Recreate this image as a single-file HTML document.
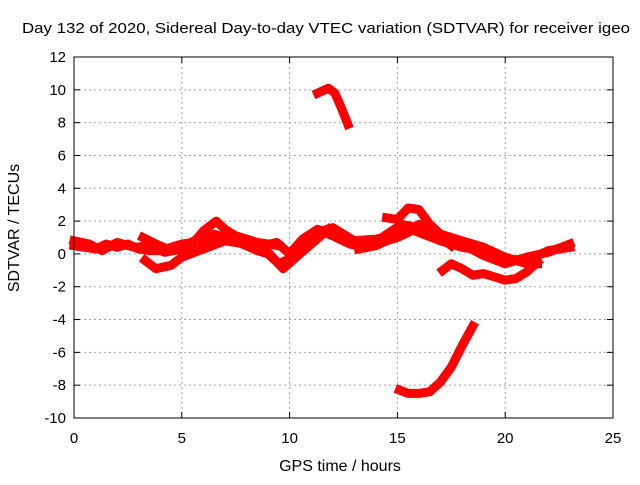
<!DOCTYPE html>
<html><head><meta charset="utf-8"><style>
body{margin:0;background:#fff;}
svg{font-family:"Liberation Sans",sans-serif;}
</style></head><body>
<svg width="640" height="480">
<g id="grid"></g>
<g id="series"></g>
<g id="axes"></g>
<text x="22" y="33" font-size="15" textLength="608" lengthAdjust="spacingAndGlyphs">Day 132 of 2020, Sidereal Day-to-day VTEC variation (SDTVAR) for receiver igeo</text>
<text x="340" y="471" text-anchor="middle" font-size="16">GPS time / hours</text>
<text transform="translate(19,228) rotate(-90)" text-anchor="middle" font-size="16">SDTVAR / TECUs</text>
</svg>
<script>
const xTicks=[0,5,10,15,20,25];
const yTicks=[-10,-8,-6,-4,-2,0,2,4,6,8,10,12];
const s1=[[0,0.5],[0.5,0.4],[1,0.3],[1.5,0.6],[2,0.4],[2.5,0.6],[3,0.3],[3.5,0.2],[4,0.2],[4.5,0.4],[5,0.6],[6,0.8],[6.5,1.2],[7,1.0],[8,0.5],[8.5,0.2],[9,0],[9.5,-0.6],[10,-0.3],[10.5,0.5],[11,1.0],[11.5,1.4],[12,1.6],[12.5,1.2],[13,0.8],[14,0.9],[15,1.2],[15.5,1.6],[16,1.3],[17,0.8],[18,0.4],[19,0.2],[20,-0.3],[21,-0.4],[21.5,-0.1],[22,0.2],[23,0.4]];
const s1b=[[0,0.8],[0.7,0.6],[1.3,0.2],[2,0.7],[2.8,0.4],[3.5,0.5],[4.2,0.1],[5,0.3],[5.8,1.0],[6.5,0.6],[7.2,1.2],[8,0.9],[8.8,0.5],[9.4,0.7],[10,0],[10.6,0.9],[11.3,1.5],[12,1.1],[12.8,0.6],[13.6,0.4],[14.4,1.1],[15.2,1.8],[16,1.6],[17,1.2],[18,0.6],[19,-0.1],[20,-0.6],[21,-0.2],[22,0.1],[23,0.6]];
const s2=[[3.2,1.0],[3.8,0.6],[4.5,0.2],[5.5,0.6],[6,1.4],[6.6,2.0],[7,1.5],[7.5,1.1],[8.5,0.7],[9.5,0.5]];
const s3=[[3.3,-0.4],[3.8,-0.9],[4.5,-0.7],[5,-0.2],[6,0.3],[7,0.8],[8,0.6],[9,0.1],[9.7,-0.9],[10.3,-0.2],[11,0.6],[11.8,1.5]];
const s4=[[14.5,2.2],[15,2.1],[15.5,2.8],[16,2.7],[16.5,1.8],[17,1.2],[18,0.8],[19,0.4],[20,-0.2],[21,-0.6],[21.5,-0.6]];
const s5=[[13.2,0.3],[14,0.5],[14.5,0.8],[15,1.0],[15.5,1.3],[16,1.8],[16.5,1.5],[17,1.0],[17.5,0.5]];
const s6=[[17.1,-1.0],[17.5,-0.6],[18,-0.9],[18.5,-1.3],[19,-1.2],[19.5,-1.4],[20,-1.6],[20.5,-1.5],[21,-1.1],[21.5,-0.5]];
const s7=[[11.3,9.8],[11.8,10.1],[12.1,9.8],[12.4,8.9],[12.7,7.9]];
const s8=[[15.1,-8.3],[15.5,-8.5],[16,-8.5],[16.5,-8.4],[17,-7.8],[17.5,-6.9],[18,-5.6],[18.5,-4.4]];
const allSeries=[s1,s1b,s2,s3,s4,s5,s6,s7,s8];
const X0=74,X1=613,Y0=418,Y1=57;
function xs(v){return X0+(v-0)/(25-0)*(X1-X0);}
function ys(v){return Y0-(v+10)/22*(Y0-Y1);}
const NS="http://www.w3.org/2000/svg";
function mk(t,a,p){const e=document.createElementNS(NS,t);for(const k in a)e.setAttribute(k,a[k]);p.appendChild(e);return e;}
const grid=document.getElementById('grid'),axes=document.getElementById('axes'),ser=document.getElementById('series');
xTicks.forEach(t=>{const x=xs(t);
 if(t>0&&t<25){const g=mk('line',{x1:x,x2:x,y1:Y1,y2:Y0,stroke:'#a0a0a0','stroke-dasharray':'2,3'},grid);
 
 }
 mk('line',{x1:x,x2:x,y1:Y0,y2:Y0-6,stroke:'#000'},axes);
 mk('line',{x1:x,x2:x,y1:Y1,y2:Y1+6,stroke:'#000'},axes);
 const l=mk('text',{x:x,y:Y0+25,'text-anchor':'middle','font-size':'15'},axes);l.textContent=t;
 
 });
yTicks.forEach(t=>{const y=ys(t);
 if(t>-10&&t<12){const g=mk('line',{x1:X0,x2:X1,y1:y,y2:y,stroke:'#a0a0a0','stroke-dasharray':'2,3'},grid);
 
 }
 mk('line',{x1:X0,x2:X0+6,y1:y,y2:y,stroke:'#000'},axes);
 mk('line',{x1:X1,x2:X1-6,y1:y,y2:y,stroke:'#000'},axes);
 const l=mk('text',{x:X0-8,y:y+5,'text-anchor':'end','font-size':'15'},axes);l.textContent=t;
 
 });
const fr=mk('rect',{x:X0,y:Y1,width:X1-X0,height:Y0-Y1,fill:'none',stroke:'#000'},axes);


allSeries.forEach((s,i)=>{
 const p=mk('polyline',{points:s.map(d=>xs(d[0])+','+ys(d[1])).join(' '),fill:'none',stroke:'#ff0000','stroke-width':'9','stroke-linejoin':'round','stroke-linecap':'square'},ser);
 
 
});
</script>
</body></html>
